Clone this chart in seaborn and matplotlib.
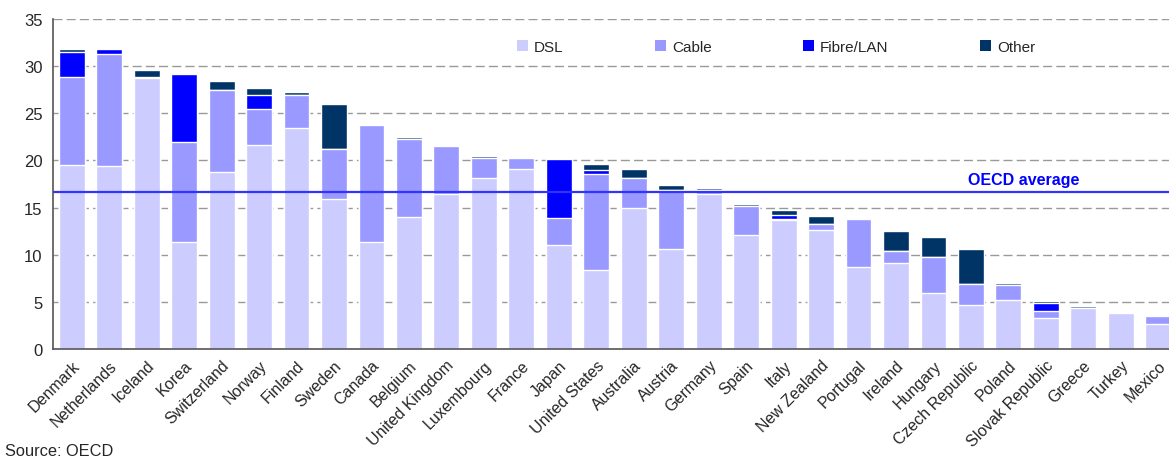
import matplotlib
matplotlib.use("Agg")
import matplotlib.pyplot as plt
from matplotlib.patches import Patch
import seaborn as sns
import numpy as np
import pandas as pd

countries = ["Denmark", "Netherlands", "Iceland", "Korea", "Switzerland", "Norway",
             "Finland", "Sweden", "Canada", "Belgium", "United Kingdom", "Luxembourg",
             "France", "Japan", "United States", "Australia", "Austria", "Germany",
             "Spain", "Italy", "New Zealand", "Portugal", "Ireland", "Hungary",
             "Czech Republic", "Poland", "Slovak Republic", "Greece", "Turkey", "Mexico"]

dsl = [19.5, 19.4, 28.7, 11.35, 18.8, 21.6, 23.4, 15.9, 11.35, 14.0, 16.4, 18.1,
       19.1, 11.0, 8.4, 14.95, 10.6, 16.45, 12.1, 13.7, 12.6, 8.7, 9.1, 5.9,
       4.65, 5.2, 3.3, 4.35, 3.8, 2.65]
cable = [9.3, 11.9, 0.0, 10.6, 8.7, 3.85, 3.5, 5.3, 12.4, 8.3, 5.1, 2.15,
         1.15, 2.9, 10.15, 3.15, 6.25, 0.4, 3.05, 0.1, 0.65, 5.1, 1.3, 3.85,
         2.25, 1.6, 0.7, 0.0, 0.0, 0.85]
fibre = [2.7, 0.5, 0.1, 7.25, 0.0, 1.45, 0.0, 0.0, 0.0, 0.0, 0.0, 0.0,
         0.0, 6.25, 0.45, 0.0, 0.0, 0.0, 0.0, 0.4, 0.0, 0.0, 0.0, 0.0,
         0.0, 0.0, 0.9, 0.0, 0.0, 0.0]
other = [0.3, 0.0, 0.8, 0.0, 0.9, 0.8, 0.35, 4.8, 0.0, 0.2, 0.0, 0.25,
         0.0, 0.0, 0.6, 1.0, 0.55, 0.22, 0.25, 0.5, 0.85, 0.0, 2.1, 2.15,
         3.7, 0.2, 0.2, 0.2, 0.0, 0.0]
series_names = ["DSL", "Cable", "Fibre/LAN", "Other"]
series_colors = ["#CCCCFF", "#9999FF", "#0000FF", "#003366"]
oecd_average = 16.65

df = pd.DataFrame({"country": countries, "DSL": dsl, "Cable": cable,
                   "Fibre/LAN": fibre, "Other": other})
cum = df[series_names].cumsum(axis=1)
cum["country"] = df["country"]

sns.set_style("white")
plt.rcParams["font.family"] = ["Liberation Sans", "DejaVu Sans"]

fig = plt.figure(figsize=(11.69, 4.60), dpi=100)
ax = fig.add_axes([53 / 1169, 1 - 350 / 460, 1124 / 1169, 330 / 460])

# draw cumulative totals from top layer down so each lower layer covers the one above
for name, color in reversed(list(zip(series_names, series_colors))):
    sns.barplot(data=cum, x="country", y=name, color=color, width=0.69,
                saturation=1, ax=ax, order=countries)

ax.set_ylim(0, 35)
ax.set_xlim(-0.5, len(countries) - 0.5)
ax.set_yticks(range(0, 36, 5))
ax.yaxis.grid(True, linestyle=(0, (6.5, 3)), color="#999999", linewidth=1)
ax.set_axisbelow(True)
ax.set_xlabel("")
ax.set_ylabel("")

ax.axhline(oecd_average, color="#3333FF", linewidth=1.6, zorder=5)
ax.text(25.4, 18.0, "OECD average", color="#0000FF", fontweight="bold",
        fontsize=11.5, ha="center", va="center")

for side in ["top", "right"]:
    ax.spines[side].set_visible(False)
for side in ["left", "bottom"]:
    ax.spines[side].set_color("#555555")
    ax.spines[side].set_linewidth(1.2)

ax.set_xticks(np.arange(len(countries)))
ax.set_xticklabels(countries, rotation=45, ha="right", rotation_mode="anchor", fontsize=11.5)
ax.set_xticks(np.arange(len(countries) + 1) - 0.5, minor=True)
ax.tick_params(axis="x", which="major", length=0, pad=6)
ax.tick_params(axis="x", which="minor", length=4, color="#333333", direction="out")
ax.tick_params(axis="y", length=4, color="#333333", direction="out", labelsize=12)

handles = [Patch(facecolor=c, edgecolor="none", label=n)
           for n, c in zip(series_names, series_colors)]
fig.legend(handles=handles, ncol=4, loc="center left",
           bbox_to_anchor=(517 / 1169, 1 - 48 / 460), frameon=False,
           fontsize=11, handlelength=0.7, handleheight=0.7, handletextpad=0.4,
           columnspacing=6.0, borderpad=0, borderaxespad=0)

fig.text(5 / 1169, 1 - 452 / 460, "Source: OECD", fontsize=11.8, va="center")

fig.savefig("out.png", dpi=100)
